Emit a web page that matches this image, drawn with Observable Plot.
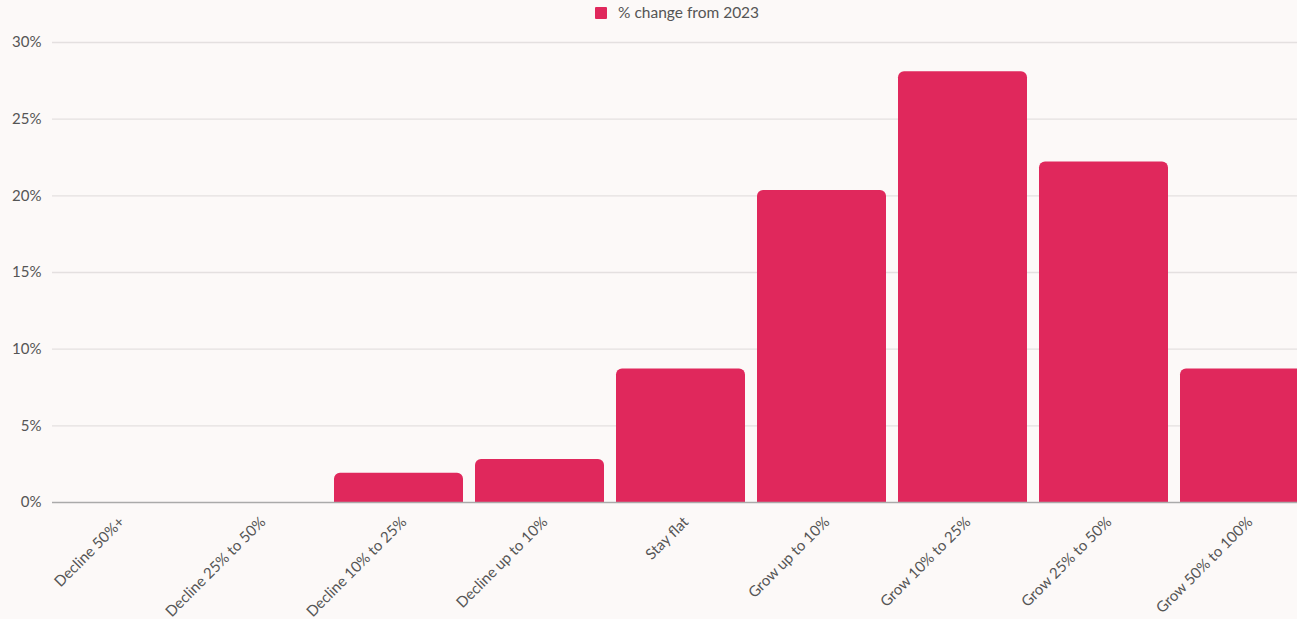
<!DOCTYPE html>
<html>
<head>
<meta charset="utf-8">
<script src="https://cdn.jsdelivr.net/npm/d3@7"></script>
<script src="https://cdn.jsdelivr.net/npm/@observablehq/plot@0.6"></script>
<style>
  html, body { margin: 0; padding: 0; background: #fcf9f8; overflow: hidden; }
  #wrap { position: relative; width: 1297px; height: 619px; font-family: Lato, sans-serif; }
  #legend { height: 30px; position: relative; font-size: 15.5px; color: #555; }
  #legend .sw { position: absolute; left: 595px; top: 7px; width: 12px; height: 12px; background: #e0285c; border-radius: 1px; }
  #legend .lb { position: absolute; left: 618px; top: 3px; }
</style>
</head>
<body>
<div id="wrap">
  <div id="legend"><span class="sw"></span><span class="lb">% change from 2023</span></div>
  <div id="chart"></div>
</div>
<script>
const categories = ["Decline 50%+", "Decline 25% to 50%", "Decline 10% to 25%", "Decline up to 10%", "Stay flat", "Grow up to 10%", "Grow 10% to 25%", "Grow 25% to 50%", "Grow 50% to 100%"];
const values = [0, 0, 1.9, 2.8, 8.7, 20.35, 28.1, 22.2, 8.7];
const yTicks = [0, 5, 10, 15, 20, 25, 30];
const seriesName = "% change from 2023";

const data = categories.map((c, i) => ({category: c, value: values[i]}));

const chart = Plot.plot({
  width: 1297,
  height: 589,
  marginTop: 12,
  marginBottom: 117,
  marginLeft: 52,
  marginRight: 0,
  style: {background: "transparent", fontFamily: "Lato, sans-serif", fontSize: "15px", color: "#555", overflow: "hidden"},
  x: {domain: categories, range: [46, 1315], paddingInner: 0.085, paddingOuter: 0.0425, label: null},
  y: {domain: [0, 30], label: null},
  marks: [
    Plot.ruleY(yTicks.filter(d => d > 0), {stroke: "#e4e0e0", strokeWidth: 1.3}),
    Plot.barY(data, {x: "category", y: "value", fill: "#e0285c", ry1: 6}),
    Plot.ruleY([0], {stroke: "#aaa", strokeWidth: 1.3}),
    Plot.axisY({ticks: yTicks, tickFormat: d => d + "%", tickSize: 0, tickPadding: 11, fill: "#555", label: null}),
    Plot.axisX({tickSize: 0, tickRotate: -45, tickPadding: 17, dx: 5, fill: "#555", label: null})
  ]
});
document.getElementById("chart").appendChild(chart);
</script>
</body>
</html>
